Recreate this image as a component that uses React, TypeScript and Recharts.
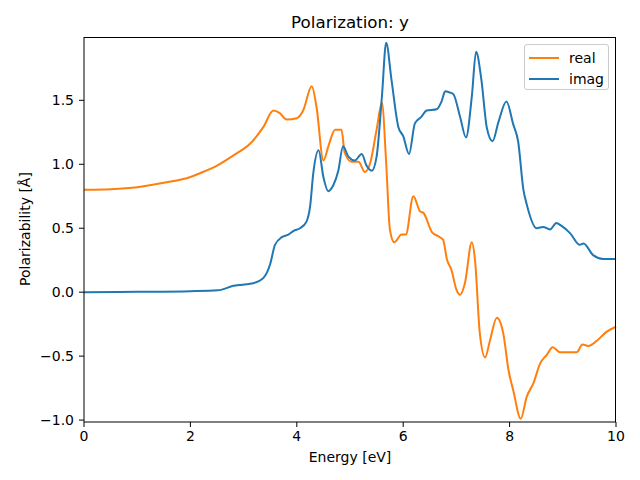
import { Line, LineChart, XAxis, YAxis } from "recharts";

const FONT = "'DejaVu Sans', sans-serif";
const REAL_COLOR = "#ff7f0e";
const IMAG_COLOR = "#1f77b4";

const realEnergy = [
  0, 0.5, 1.0, 1.5, 2.0, 2.18, 2.5, 2.81, 3.12, 3.37, 3.56, 3.68, 3.81, 4.0, 4.12, 4.28, 4.37, 4.5, 4.6, 4.72,
  4.84, 4.9, 5.03, 5.16, 5.28, 5.38, 5.5, 5.6, 5.68, 5.75, 5.83, 5.97, 6.05, 6.19, 6.32, 6.38, 6.54, 6.69, 6.75,
  6.82, 6.91, 7.0, 7.07, 7.16, 7.29, 7.35, 7.44, 7.54, 7.63, 7.76, 7.88, 7.98, 8.07, 8.21, 8.32, 8.45, 8.57, 8.7,
  8.81, 8.95, 9.1, 9.26, 9.37, 9.48, 9.64, 9.82, 10,
];
const realValues = [
  0.8, 0.805, 0.82, 0.855, 0.9, 0.93, 0.99, 1.07, 1.16, 1.29, 1.42, 1.4, 1.35, 1.36, 1.42, 1.61, 1.45, 1.03, 1.15,
  1.27, 1.27, 1.09, 1.02, 1.02, 0.94, 1.01, 1.27, 1.48, 1.01, 0.49, 0.39, 0.45, 0.45, 0.75, 0.63, 0.62, 0.47, 0.43,
  0.41, 0.26, 0.17, 0.02, -0.02, 0.07, 0.39, 0.25, -0.32, -0.51, -0.38, -0.2, -0.32, -0.61, -0.77, -0.99, -0.82,
  -0.71, -0.56, -0.49, -0.43, -0.47, -0.47, -0.47, -0.41, -0.42, -0.38, -0.31, -0.27,
];

const imagEnergy = [
  0, 1, 2, 2.52, 2.81, 3.18, 3.37, 3.5, 3.59, 3.72, 3.84, 3.94, 4.06, 4.18, 4.25, 4.31, 4.41, 4.5, 4.59, 4.69,
  4.78, 4.87, 4.97, 5.09, 5.22, 5.31, 5.41, 5.5, 5.6, 5.68, 5.78, 5.91, 6.0, 6.11, 6.22, 6.34, 6.44, 6.63, 6.72,
  6.79, 6.88, 6.94, 7.07, 7.18, 7.29, 7.37, 7.47, 7.57, 7.68, 7.79, 7.94, 8.07, 8.16, 8.26, 8.32, 8.51, 8.63, 8.76,
  8.88, 8.97, 9.14, 9.32, 9.39, 9.57, 9.76, 10,
];
const imagValues = [
  0, 0.003, 0.008, 0.015, 0.05, 0.07, 0.11, 0.22, 0.37, 0.43, 0.45, 0.48, 0.5, 0.55, 0.67, 0.93, 1.11, 0.9, 0.79,
  0.84, 0.95, 1.14, 1.06, 1.03, 1.08, 0.99, 0.95, 1.06, 1.53, 1.95, 1.66, 1.29, 1.22, 1.08, 1.32, 1.37, 1.42, 1.43,
  1.49, 1.57, 1.56, 1.55, 1.37, 1.21, 1.53, 1.88, 1.66, 1.29, 1.18, 1.33, 1.49, 1.31, 1.18, 0.8, 0.69, 0.5, 0.51,
  0.49, 0.54, 0.52, 0.46, 0.37, 0.38, 0.29, 0.26, 0.26,
];

const xTicks = [0, 2, 4, 6, 8, 10];
const yTicks = [-1, -0.5, 0, 0.5, 1, 1.5];

const realData = realEnergy.map((e, i) => ({ energy: e, real: realValues[i] }));
const imagData = imagEnergy.map((e, i) => ({ energy: e, imag: imagValues[i] }));

const tickStyle = { fontSize: 14, fill: "#000", fontFamily: FONT };
const fmtY = (v: number) => v.toFixed(1).replace("-", "\u2212");

const LEGEND = [
  { label: "real", color: REAL_COLOR },
  { label: "imag", color: IMAG_COLOR },
];

export default function App() {
  return (
    <div style={{ position: "absolute", left: 0, top: 0, width: 640, height: 480, background: "#fff", fontFamily: FONT }}>
      <LineChart width={640} height={480} margin={{ top: 37, right: 24, bottom: 28, left: 24 }}>
        <XAxis
          dataKey="energy"
          type="number"
          domain={[0, 10]}
          ticks={xTicks}
          allowDuplicatedCategory={false}
          height={30}
          tick={tickStyle}
          tickSize={5}
          tickMargin={4}
          stroke="#000"
          tickLine={{ stroke: "#000" }}
          axisLine={{ stroke: "#000" }}
        />
        <YAxis
          type="number"
          domain={[-1.015, 1.995]}
          ticks={yTicks}
          tickFormatter={fmtY}
          width={60}
          tick={tickStyle}
          tickSize={5}
          tickMargin={5}
          stroke="#000"
          tickLine={{ stroke: "#000" }}
          axisLine={{ stroke: "#000" }}
        />
        <Line data={realData} dataKey="real" type="monotone" stroke={REAL_COLOR} strokeWidth={2} dot={false} isAnimationActive={false} />
        <Line data={imagData} dataKey="imag" type="monotone" stroke={IMAG_COLOR} strokeWidth={2} dot={false} isAnimationActive={false} />
      </LineChart>

      {/* top and right spines */}
      <div
        style={{
          position: "absolute",
          left: 84,
          top: 37,
          width: 532,
          height: 385,
          boxSizing: "border-box",
          borderTop: "1px solid #000",
          borderRight: "1px solid #000",
          pointerEvents: "none",
        }}
      />

      <div style={{ position: "absolute", left: 84, width: 532, top: 12, lineHeight: "20px", textAlign: "center", fontSize: 16.7 }}>
        Polarization: y
      </div>
      <div style={{ position: "absolute", left: 84, width: 532, top: 447, lineHeight: "20px", textAlign: "center", fontSize: 14 }}>
        Energy [eV]
      </div>
      <div
        style={{
          position: "absolute",
          left: 25,
          top: 229,
          fontSize: 14,
          whiteSpace: "nowrap",
          transform: "translate(-50%, -50%) rotate(-90deg)",
        }}
      >
        Polarizability [Å]
      </div>

      <div
        style={{
          position: "absolute",
          left: 524,
          top: 44,
          width: 85,
          height: 46,
          boxSizing: "border-box",
          border: "1px solid #cccccc",
          borderRadius: 3,
          background: "rgba(255,255,255,0.8)",
        }}
      >
        {LEGEND.map((item, i) => (
          <div key={item.label} style={{ position: "absolute", left: 4, top: 3 + i * 21, height: 20, display: "flex", alignItems: "center" }}>
            <span style={{ width: 30, height: 2, background: item.color, display: "inline-block" }} />
            <span style={{ marginLeft: 10, fontSize: 14 }}>{item.label}</span>
          </div>
        ))}
      </div>
    </div>
  );
}
